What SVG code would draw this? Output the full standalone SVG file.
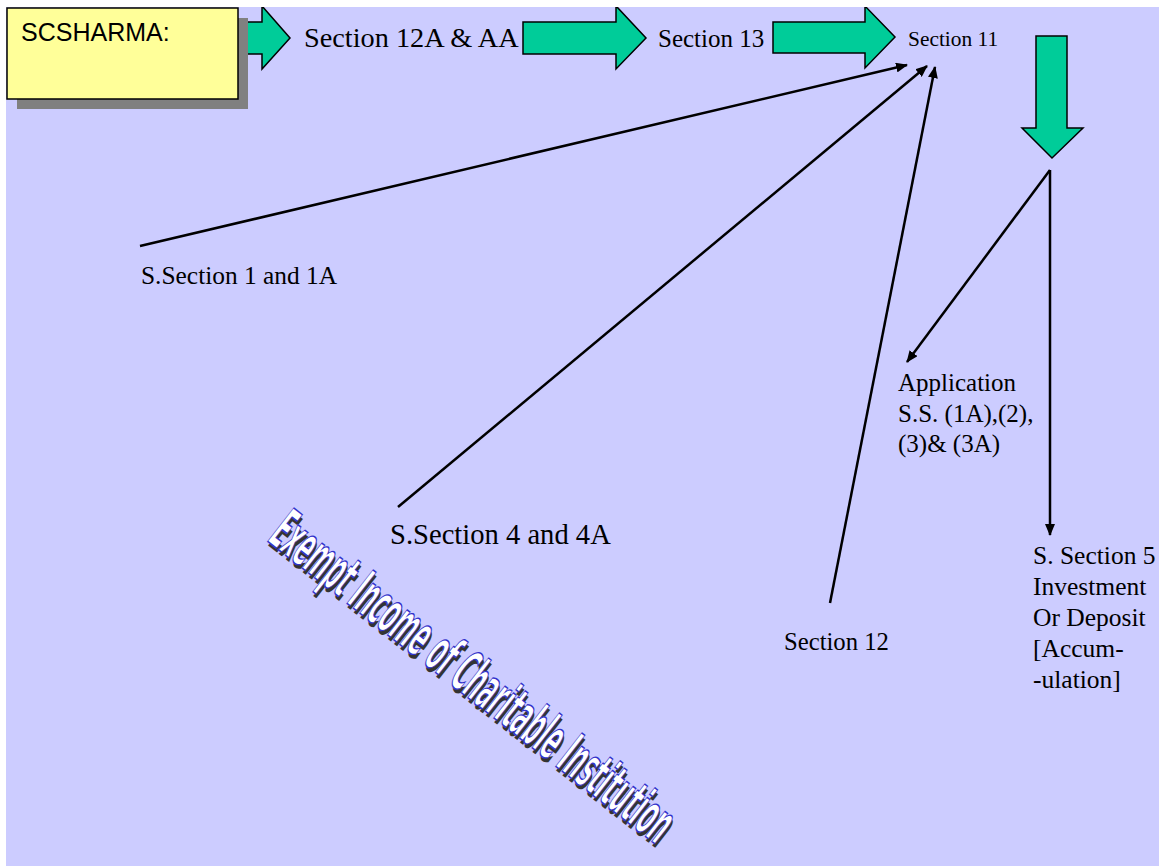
<svg xmlns="http://www.w3.org/2000/svg" width="1159" height="866" viewBox="0 0 1159 866">
<defs>
<style>
.t{font-family:"Liberation Serif","Times New Roman",serif;fill:#000}
.blk{fill:#00CC99;stroke:#000;stroke-width:1.5}
.ln{stroke:#000;stroke-width:2.5;fill:none;marker-end:url(#ah)}
.wa{font-family:"DejaVu Sans Condensed","DejaVu Sans",sans-serif;font-weight:bold;font-size:58px}
</style>
<marker id="ah" viewBox="0 0 12 10" refX="11" refY="5" markerWidth="12" markerHeight="10" markerUnits="userSpaceOnUse" orient="auto">
<path d="M0,0 L12,5 L0,10 z" fill="#000"/>
</marker>
</defs>
<rect x="0" y="0" width="1159" height="866" fill="#FFFFFF"/>
<rect x="6" y="7" width="1153" height="859" fill="#CCCCFF"/>

<g id="node-s12a"><text class="t" x="304" y="47" font-size="28.3">Section 12A &amp; AA</text></g>

<g id="arrows-green">
<path class="blk" d="M228,22 L262,22 L262,6 L290,38 L262,69 L262,54 L228,54 z"/>
<path class="blk" d="M523,22 L616,22 L616,6 L646,38 L616,69 L616,54 L523,54 z"/>
<path class="blk" d="M773,22 L865,22 L865,6 L895,37 L865,68 L865,53 L773,53 z"/>
<path class="blk" d="M1036,36 L1067,36 L1067,128 L1083,128 L1052,158 L1022,128 L1036,128 z"/>
</g>
<rect x="0" y="0" width="1159" height="7" fill="#FFFFFF"/>

<g id="node-scsharma">
<rect x="17" y="18" width="231" height="91" fill="#808080"/>
<rect x="7" y="8" width="231" height="91" fill="#FFFF99" stroke="#000" stroke-width="1.5"/>
<text x="21" y="41" font-family="Liberation Sans,Arial,sans-serif" font-size="25" fill="#000">SCSHARMA:</text>
</g>

<g id="node-s13"><text class="t" x="658" y="47" font-size="25">Section 13</text></g>
<g id="node-s11"><text class="t" x="908" y="46" font-size="21.4">Section 11</text></g>
<g id="node-ss1"><text class="t" x="141" y="284" font-size="25.4">S.Section 1 and 1A</text></g>
<g id="node-ss4"><text class="t" x="390" y="544" font-size="28.6">S.Section 4 and 4A</text></g>
<g id="node-s12"><text class="t" x="784" y="650" font-size="24.7">Section 12</text></g>
<g id="node-app">
<text class="t" x="898" y="391" font-size="25">Application</text>
<text class="t" x="898" y="422" font-size="25">S.S. (1A),(2),</text>
<text class="t" x="898" y="452" font-size="25">(3)&amp; (3A)</text>
</g>
<g id="node-ss5">
<text class="t" x="1033" y="564" font-size="25.5">S. Section 5</text>
<text class="t" x="1033" y="595" font-size="25.5">Investment</text>
<text class="t" x="1033" y="626" font-size="25.5">Or Deposit</text>
<text class="t" x="1033" y="657" font-size="25.5">[Accum-</text>
<text class="t" x="1033" y="688" font-size="25.5">-ulation]</text>
</g>

<g id="connectors">
<line class="ln" x1="140" y1="246" x2="907" y2="65"/>
<line class="ln" x1="398" y1="507" x2="927" y2="66"/>
<line class="ln" x1="830" y1="603" x2="935" y2="67"/>
<line class="ln" x1="1050" y1="170" x2="907" y2="362"/>
<line class="ln" x1="1050" y1="170" x2="1050" y2="535"/>
</g>

<g id="wordart" transform="translate(266,540) rotate(38)">
<text class="wa" x="3" y="3" textLength="495" lengthAdjust="spacingAndGlyphs" fill="#333333">Exempt Income of Charitable Institution</text>
<text class="wa" x="0" y="0" textLength="495" lengthAdjust="spacingAndGlyphs" fill="#FFFFFF" stroke="#3333CC" stroke-width="1.5">Exempt Income of Charitable Institution</text>
</g>
</svg>
